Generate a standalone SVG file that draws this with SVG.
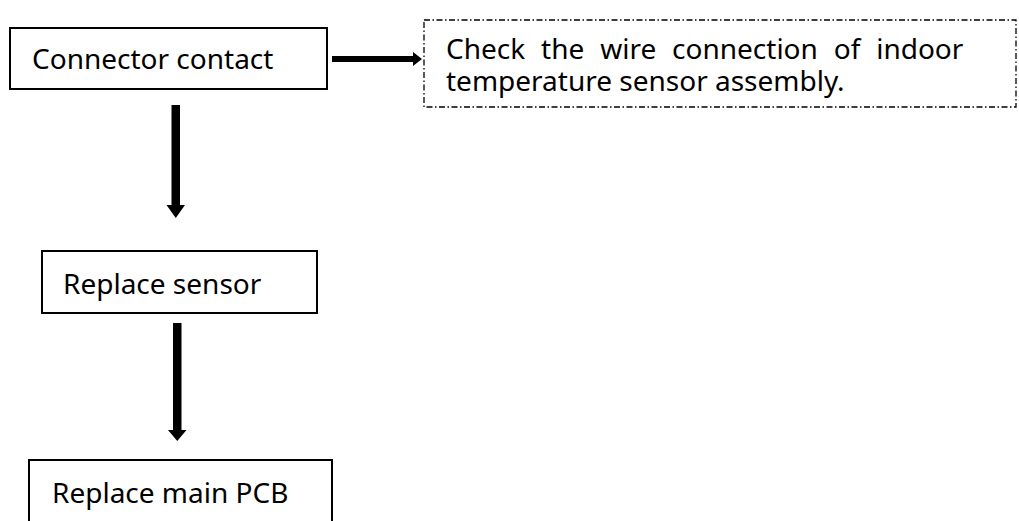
<svg xmlns="http://www.w3.org/2000/svg" width="1019" height="521" viewBox="0 0 1019 521">
<style>
.box{fill:#fff;stroke:#000;stroke-width:2}
.dbox{fill:none;stroke:#000;stroke-width:1.3;stroke-dasharray:6 2.5 1.5 2.5}
.t{font-family:"Noto Sans","DejaVu Sans",sans-serif;font-size:28px;fill:#000}
.arr{fill:#000;stroke:none}
</style>
<rect width="1019" height="521" fill="#fff"/>
<g id="connectors">
<path class="arr" d="M332,56 L413,56 L413,52 L422,59 L413,66 L413,62 L332,62 Z"/>
<path class="arr" d="M171.5,105 L180,105 L180,205 L185,205 L175.75,218 L166.5,205 L171.5,205 Z"/>
<path class="arr" d="M173,323 L181.5,323 L181.5,430 L186.5,430 L177.25,441 L168,430 L173,430 Z"/>
</g>
<g id="n1">
<rect class="box" x="10" y="28" width="317" height="61"/>
<text class="t" x="32" y="69">Connector contact</text>
</g>
<g id="n2">
<rect class="dbox" x="424" y="20" width="592" height="87"/>
<text class="t" x="446" y="59" style="word-spacing:8.6px">Check the wire connection of indoor</text>
<text class="t" x="446" y="91">temperature sensor assembly.</text>
</g>
<g id="n3">
<rect class="box" x="42" y="251" width="275" height="62"/>
<text class="t" x="63" y="294">Replace sensor</text>
</g>
<g id="n4">
<rect class="box" x="29" y="460" width="303" height="80"/>
<text class="t" x="52" y="503">Replace main PCB</text>
</g>
</svg>
